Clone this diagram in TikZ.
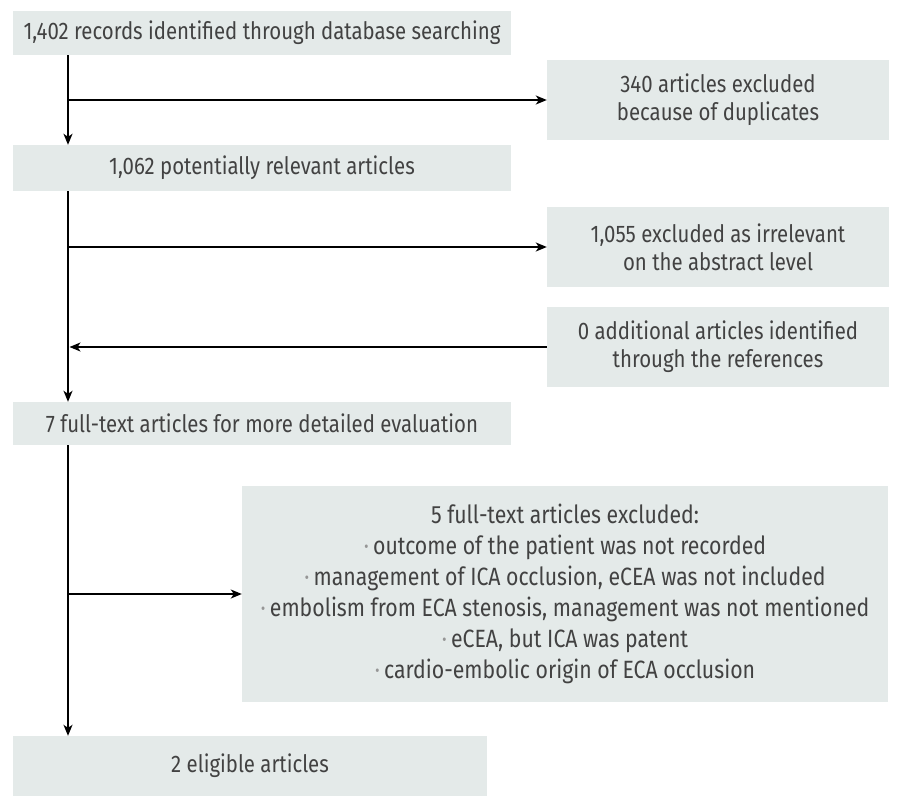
\documentclass[tikz,border=0pt]{standalone}
\usepackage{fontspec}
\setmainfont{Fira Sans}[FakeStretch=0.85]
\usetikzlibrary{arrows.meta, positioning}
\definecolor{boxfill}{RGB}{228,234,233}
\definecolor{boxtext}{RGB}{66,66,66}
\definecolor{dotgray}{RGB}{150,150,150}
\newcommand{\itm}{{\color{dotgray}·}\,}

\begin{document}
\begin{tikzpicture}[x=1pt, y=-1pt,
    box/.style={fill=boxfill, text=boxtext, align=center, inner sep=0pt,
        font=\fontsize{24}{28}\selectfont},
    arr/.style={-{Stealth[length=11pt, width=9pt, inset=3pt]}, line width=1.5pt}]
    \useasboundingbox (0,0) rectangle (904,800);

    % Main column
    \node[box, minimum width=498, minimum height=44] (rec) at (262,33)
        {1,402 records identified through database searching};
    \node[box, minimum width=498, minimum height=46] (pot) at (262,168)
        {1,062 potentially relevant articles};
    \node[box, minimum width=498, minimum height=43] (full) at (262,423.5)
        {7 full-text articles for more detailed evaluation};
    \node[box, minimum width=474, minimum height=60] (elig) at (250,766)
        {2 eligible articles};

    % Side boxes
    \node[box, minimum width=342, minimum height=79] (dup) at (718,100)
        {340 articles excluded\\because of duplicates};
    \node[box, minimum width=342, minimum height=80] (irr) at (718,247)
        {1,055 excluded as irrelevant\\on the abstract level};
    \node[box, minimum width=342, minimum height=80] (add) at (718,347)
        {0 additional articles identified\\through the references};
    \node[box, minimum width=646, minimum height=216,
          font=\fontsize{25}{31}\selectfont] (excl) at (565,594)
        {5 full-text articles excluded:\\
         \itm outcome of the patient was not recorded\\
         \itm management of ICA occlusion, eCEA was not included\\
         \itm embolism from ECA stenosis, management was not mentioned\\
         \itm eCEA, but ICA was patent\\
         \itm cardio-embolic origin of ECA occlusion};

    % Spine
    \coordinate (spine) at (68,0);
    \draw[arr] (rec.south -| spine) -- (pot.north -| spine);
    \draw[arr] (pot.south -| spine) -- (full.north -| spine);
    \draw[arr] (full.south -| spine) -- (elig.north -| spine);

    % Branches
    \draw[arr] (dup.west -| spine) -- (dup.west);
    \draw[arr] (irr.west -| spine) -- (irr.west);
    \draw[arr] (add.west) -- ([xshift=1.5]add.west -| spine);
    \draw[arr] (excl.west -| spine) -- (excl.west);
\end{tikzpicture}
\end{document}
